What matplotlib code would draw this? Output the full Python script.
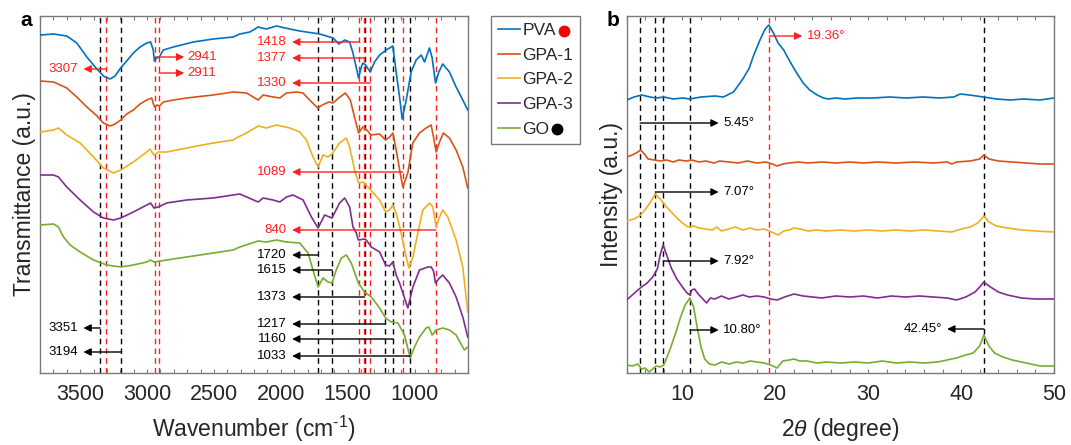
"""FTIR (a) et DRX (b) des films PVA / GPA / GO."""

import matplotlib

matplotlib.use("Agg")
import matplotlib.pyplot as plt
from matplotlib.lines import Line2D
from matplotlib.ticker import MultipleLocator

plt.rcParams["font.family"] = ["Liberation Sans", "DejaVu Sans"]
plt.rcParams["mathtext.fontset"] = "custom"
plt.rcParams["mathtext.rm"] = "Liberation Sans"
plt.rcParams["mathtext.it"] = "Liberation Sans:italic"

NAMES = ["PVA", "GPA-1", "GPA-2", "GPA-3", "GO"]
COLORS = ["#0072BD", "#D95319", "#EDB120", "#7E2F8E", "#77AC30"]
RED = "#ff1f1f"
FRAME = "#7a7a7a"
TXT = "#262626"

# ---- FTIR (transmittance décalée, u.a.) ----
pva_wn = [3798, 3699, 3600, 3525, 3450, 3381, 3326, 3276, 3239, 3197, 3152, 3102, 3052, 3002,
          2973, 2953, 2945, 2928, 2908, 2878, 2803, 2654, 2505, 2356, 2306, 2231, 2169, 2107,
          2032, 1933, 1858, 1709, 1634, 1609, 1565, 1522, 1485, 1460, 1418, 1398, 1386, 1366,
          1331, 1299, 1261, 1211, 1162, 1149, 1112, 1092, 1062, 1025, 988, 950, 925, 888, 868,
          843, 818, 789, 739, 689, 639, 602]
pva_t = [338, 339, 337, 330, 316, 305, 297, 294, 297, 305, 312, 320, 326, 330,
         331, 323, 312, 315, 316, 323, 326, 331, 334, 336, 339, 341, 346, 344,
         347, 344, 342, 339, 336, 335, 329, 333, 331, 320, 295, 306, 310, 308,
         301, 311, 318, 323, 327, 313, 276, 254, 273, 301, 313, 318, 311, 325, 315,
         290, 301, 309, 301, 286, 273, 263]

gpa1_wn = [3798, 3699, 3600, 3525, 3450, 3381, 3326, 3276, 3239, 3197, 3152, 3102, 3052, 3002,
           2965, 2945, 2925, 2908, 2878, 2803, 2704, 2505, 2356, 2256, 2169, 2132, 2057, 2007,
           1958, 1883, 1834, 1784, 1724, 1690, 1641, 1609, 1567, 1517, 1480, 1443, 1418, 1386,
           1356, 1326, 1261, 1216, 1186, 1162, 1137, 1107, 1087, 1050, 1013, 963, 913, 876,
           858, 838, 813, 784, 739, 689, 639, 602]
gpa1_t = [292, 291, 285, 276, 266, 258, 250, 247, 249, 253, 259, 263, 269, 273,
          275, 266, 268, 267, 271, 273, 275, 278, 281, 280, 273, 278, 276, 275,
          280, 281, 280, 273, 265, 268, 271, 270, 275, 280, 273, 253, 240, 246,
          243, 238, 239, 233, 236, 240, 223, 200, 186, 200, 230, 240, 245, 248,
          236, 221, 231, 240, 235, 223, 206, 185]

gpa2_wn = [3798, 3699, 3662, 3600, 3500, 3400, 3326, 3251, 3196, 3102, 3002, 2978, 2948, 2915,
           2853, 2704, 2505, 2356, 2318, 2256, 2169, 2107, 2032, 1933, 1858, 1808, 1759, 1721,
           1684, 1647, 1617, 1560, 1510, 1485, 1448, 1418, 1385, 1348, 1261, 1216, 1187, 1162,
           1137, 1100, 1062, 1042, 1012, 975, 938, 888, 863, 838, 813, 789, 751, 689, 639, 602]
gpa2_t = [241, 243, 245, 238, 230, 216, 205, 200, 203, 211, 221, 224, 218, 221,
          221, 225, 230, 233, 236, 240, 247, 245, 248, 245, 241, 233, 216, 206,
          218, 216, 219, 230, 235, 226, 203, 190, 191, 186, 173, 161, 163, 168,
          160, 140, 116, 105, 116, 140, 163, 170, 166, 146, 156, 163, 156, 133, 106, 61]

gpa3_wn = [3798, 3699, 3662, 3600, 3500, 3400, 3326, 3251, 3196, 3102, 3002, 2973, 2948, 2915,
           2853, 2704, 2505, 2356, 2306, 2169, 2132, 2057, 2007, 1958, 1908, 1833, 1771, 1721,
           1672, 1617, 1560, 1522, 1485, 1460, 1435, 1420, 1373, 1361, 1323, 1261, 1216, 1187,
           1162, 1137, 1112, 1050, 1012, 963, 900, 875, 858, 843, 813, 789, 739, 689, 639, 602]
gpa3_t = [198, 198, 196, 186, 173, 161, 155, 153, 155, 161, 168, 170, 165, 166,
          170, 173, 175, 178, 179, 171, 175, 173, 171, 176, 178, 173, 156, 145,
          158, 155, 170, 175, 166, 146, 140, 133, 134, 133, 126, 121, 108, 107,
          111, 98, 90, 65, 86, 103, 106, 106, 102, 90, 95, 98, 90, 76, 56, 36]

go_wn = [3798, 3699, 3662, 3624, 3575, 3500, 3400, 3301, 3196, 3102, 3002, 2973, 2948, 2853,
         2704, 2505, 2356, 2306, 2169, 2107, 2032, 1958, 1858, 1796, 1759, 1721, 1684, 1647,
         1617, 1585, 1547, 1510, 1473, 1420, 1373, 1323, 1261, 1216, 1174, 1124, 1075, 1032,
         1000, 963, 913, 893, 868, 838, 789, 739, 689, 627, 602]
go_t = [148, 149, 146, 136, 128, 121, 113, 108, 106, 108, 111, 113, 111, 113,
        116, 120, 123, 126, 132, 131, 133, 131, 130, 120, 103, 86, 95, 91,
        90, 103, 115, 118, 110, 90, 81, 76, 65, 55, 51, 50, 38, 15,
        26, 36, 45, 46, 38, 43, 45, 43, 38, 23, 26]

ftir_red_peaks = [3307, 2941, 2911, 1418, 1377, 1330, 1089, 840]
ftir_black_peaks = [3351, 3194, 1720, 1615, 1373, 1217, 1160, 1033]
# (pic, hauteur de la flèche, couleur)
ftir_left_labels = [(3307, 304, RED), (3351, 45, "k"), (3194, 21, "k")]
ftir_right_labels = [(2941, 316, RED), (2911, 300, RED)]
ftir_mid_labels = [(1418, 331, RED), (1377, 315, RED), (1330, 290, RED), (1089, 201, RED),
                   (840, 143, RED), (1720, 118, "k"), (1615, 103, "k"), (1373, 76, "k"),
                   (1217, 49, "k"), (1160, 34, "k"), (1033, 17, "k")]

# ---- DRX ----
pva_2t = [4.0, 4.8, 5.6, 6.5, 7.2, 8.0, 9.0, 10.0, 10.8, 12.0, 13.5, 14.4, 15.5, 16.5, 17.2,
          17.6, 18.3, 18.9, 19.3, 19.8, 20.3, 20.9, 21.6, 22.3, 23.0, 23.7, 24.5, 25.2, 25.7,
          26.5, 27.5, 28.8, 30.5, 32.3, 34.1, 35.9, 37.7, 39.2, 39.9, 40.9, 42.4, 43.8, 45.3,
          46.7, 48.5, 50.0]
pva_i = [273, 276, 278, 276, 275, 276, 274, 275, 274, 276, 277, 276, 281, 294, 305,
         316, 332, 344, 348, 340, 330, 323, 311, 300, 290, 283, 278, 275, 274,
         275, 274, 275, 275, 276, 275, 276, 275, 276, 279, 278, 276, 274, 273,
         274, 273, 275]

gpa1_2t = [4.0, 4.6, 5.2, 5.5, 5.9, 6.3, 7.0, 7.6, 8.3, 9.0, 9.6, 10.4, 11.0, 11.8, 12.5, 13.4,
           14.0, 15.0, 16.0, 17.0, 18.0, 19.0, 19.7, 20.2, 20.8, 21.5, 22.5, 23.5, 25.0, 26.5,
           28.0, 29.5, 31.0, 33.0, 35.0, 37.0, 38.5, 39.0, 39.5, 41.0, 42.0, 42.45, 43.0, 44.0,
           45.5, 47.0, 48.5, 50.0]
gpa1_i = [216, 218, 221, 223, 219, 214, 213, 212, 213, 211, 213, 212, 213, 211, 212, 210,
          212, 211, 210, 212, 210, 211, 209, 207, 209, 210, 211, 210, 211, 210,
          211, 210, 211, 210, 211, 210, 211, 209, 211, 212, 214, 218, 214, 212,
          211, 210, 209, 209]

gpa2_2t = [4.0, 4.8, 5.5, 6.2, 6.7, 7.07, 7.6, 8.2, 8.8, 9.4, 10.0, 10.6, 11.2, 11.8, 12.5,
           13.2, 13.7, 14.2, 15.0, 15.7, 16.5, 17.3, 18.0, 18.8, 19.6, 20.3, 20.9, 21.5, 22.0,
           22.7, 23.5, 24.5, 25.5, 27.0, 28.5, 30.0, 31.5, 33.0, 34.5, 36.0, 37.5, 39.0, 40.0,
           41.0, 41.8, 42.45, 43.0, 43.8, 45.0, 46.5, 48.0, 50.0]
gpa2_i = [152, 154, 158, 166, 173, 179, 174, 167, 161, 155, 150, 146, 147, 145, 144,
          143, 146, 142, 144, 146, 143, 145, 143, 144, 141, 138, 142, 143, 145,
          144, 142, 143, 142, 143, 142, 143, 142, 143, 142, 143, 142, 141, 144,
          146, 150, 157, 151, 147, 145, 143, 142, 141]

gpa3_2t = [4.0, 4.6, 5.2, 5.6, 6.2, 6.8, 7.3, 7.6, 7.92, 8.3, 8.8, 9.4, 10.0, 10.5, 10.8, 11.0,
           11.3, 11.7, 12.2, 12.6, 13.0, 13.5, 14.2, 15.0, 15.8, 16.5, 17.2, 18.0, 18.8, 19.5,
           20.2, 21.0, 22.0, 23.0, 24.0, 25.0, 26.5, 28.0, 29.5, 31.0, 32.5, 34.0, 35.5, 37.0,
           38.5, 39.5, 40.5, 41.5, 42.0, 42.45, 43.0, 44.0, 45.0, 46.5, 48.0, 50.0]
gpa3_i = [73, 78, 83, 86, 90, 96, 104, 118, 128, 118, 105, 94, 86, 80, 78, 83,
          84, 79, 74, 70, 75, 74, 77, 74, 76, 78, 76, 77, 76, 74,
          73, 76, 79, 77, 76, 75, 77, 76, 77, 75, 77, 76, 77, 76,
          75, 73, 76, 81, 86, 91, 87, 81, 78, 75, 74, 74]

go_2t = [4.0, 4.6, 5.2, 5.6, 6.0, 6.4, 6.8, 7.2, 7.6, 8.0, 8.6, 9.2, 9.8, 10.3, 10.8, 11.2,
         11.6, 12.0, 12.4, 12.9, 13.5, 14.2, 15.0, 15.8, 16.5, 17.3, 18.0, 18.8, 19.5, 20.2,
         20.8, 21.5, 22.0, 22.6, 23.4, 24.5, 25.5, 27.0, 28.5, 30.0, 31.5, 33.0, 34.5, 36.0,
         37.5, 38.5, 39.5, 40.5, 41.3, 42.0, 42.45, 43.0, 43.6, 44.5, 45.5, 46.5, 47.5, 48.5,
         50.0]
go_i = [8, 7, 9, 4, 5, 1, 4, 7, 6, 8, 22, 38, 56, 68, 75, 66,
        45, 26, 14, 9, 8, 11, 9, 11, 10, 12, 11, 10, 8, 5,
        12, 13, 14, 12, 12, 10, 11, 10, 11, 10, 12, 10, 11, 10,
        11, 13, 15, 18, 20, 27, 38, 27, 20, 16, 13, 11, 9, 7,
        7]

xrd_red_peaks = [19.36]
xrd_black_peaks = [5.45, 7.07, 7.92, 10.80, 42.45]
xrd_right_labels = [(19.36, 337, RED), (5.45, 250, "k"), (7.07, 181, "k"),
                    (7.92, 112, "k"), (10.80, 43, "k")]
xrd_left_labels = [(42.45, 44, "k")]

ftir = [(pva_wn, pva_t), (gpa1_wn, gpa1_t), (gpa2_wn, gpa2_t), (gpa3_wn, gpa3_t), (go_wn, go_t)]
xrd = [(pva_2t, pva_i), (gpa1_2t, gpa1_i), (gpa2_2t, gpa2_i), (gpa3_2t, gpa3_i), (go_2t, go_i)]


def arrow(ax, x_from, x_to, y, text, color, ha, text_x):
    ax.annotate("", xy=(x_to, y), xytext=(x_from, y),
                arrowprops=dict(arrowstyle="-|>", color=color, lw=1.0,
                                mutation_scale=11, shrinkA=0, shrinkB=0))
    ax.text(text_x, y, text, color=color, ha=ha, va="center", fontsize=9.5)


def style_axes(ax):
    for sp in ax.spines.values():
        sp.set_color(FRAME)
        sp.set_linewidth(1.0)
    ax.tick_params(axis="x", which="both", direction="in", top=True, length=3,
                   width=0.8, color=FRAME, labelsize=15.5, labelcolor=TXT, pad=8)
    ax.tick_params(axis="y", which="both", left=False, labelleft=False)
    ax.set_ylim(0, 357)


fig = plt.figure(figsize=(10.71, 4.45), dpi=100)
ax_a = fig.add_axes([0.03735, 0.16180, 0.39963, 0.80225])
ax_b = fig.add_axes([0.58515, 0.16180, 0.39897, 0.80225])

# ---- panel a ----
for x in ftir_black_peaks:
    ax_a.axvline(x, color="k", ls=(0, (4, 3)), lw=1.0, zorder=1)
for x in ftir_red_peaks:
    ax_a.axvline(x, color=RED, ls=(0, (4, 3)), lw=1.0, zorder=1)
lines = []
for (wn, t), name, c in zip(ftir, NAMES, COLORS):
    ln, = ax_a.plot(wn, t, color=c, lw=1.2, label=name, zorder=3)
    lines.append(ln)
for pk, y, c in ftir_left_labels:
    arrow(ax_a, pk, 3475, y, str(pk), c, "right", 3515)
for pk, y, c in ftir_right_labels:
    arrow(ax_a, pk, 2722, y, str(pk), c, "left", 2697)
for pk, y, c in ftir_mid_labels:
    arrow(ax_a, pk, 1915, y, str(pk), c, "right", 1958)

ax_a.set_xlim(3800, 600)
ax_a.xaxis.set_major_locator(MultipleLocator(500))
ax_a.xaxis.set_minor_locator(MultipleLocator(100))
style_axes(ax_a)
ax_a.set_xticks([3500, 3000, 2500, 2000, 1500, 1000])
ax_a.set_xlabel("Wavenumber (cm$^{\\mathregular{\u20101}}$)", fontsize=16.5, color=TXT, labelpad=6)
ax_a.set_ylabel("Transmittance (a.u.)", fontsize=16.5, color=TXT, labelpad=3)

# ---- panel b ----
for x in xrd_black_peaks:
    ax_b.axvline(x, color="k", ls=(0, (4, 3)), lw=1.0, zorder=1)
for x in xrd_red_peaks:
    ax_b.axvline(x, color=RED, ls=(0, (4, 3)), lw=1.0, zorder=1)
for (tt, inten), c in zip(xrd, COLORS):
    ax_b.plot(tt, inten, color=c, lw=1.2, zorder=3)
for pk, y, c in xrd_right_labels:
    tip = 22.9 if pk > 15 else 13.9
    arrow(ax_b, pk, tip, y, f"{pk:.2f}°", c, "left", tip + 0.5)
for pk, y, c in xrd_left_labels:
    arrow(ax_b, pk, 38.5, y, f"{pk:.2f}°", c, "right", 38.0)

ax_b.set_xlim(4, 50)
ax_b.xaxis.set_major_locator(MultipleLocator(10))
ax_b.xaxis.set_minor_locator(MultipleLocator(2))
style_axes(ax_b)
ax_b.set_xlabel("2$\\mathit{\\theta}$ (degree)", fontsize=16.5, color=TXT, labelpad=8)
ax_b.set_ylabel("Intensity (a.u.)", fontsize=16.5, color=TXT, labelpad=3)

fig.text(20 / 1071, 1 - 20 / 445, "a", fontsize=15, fontweight="bold", va="center", ha="left")
fig.text(607 / 1071, 1 - 20 / 445, "b", fontsize=15, fontweight="bold", va="center", ha="left")

# ---- légende entre les panneaux ----
leg = fig.legend(handles=lines, loc="upper left", bbox_to_anchor=(491 / 1071, 1 - 16 / 445),
                 bbox_transform=fig.transFigure, borderaxespad=0, fontsize=12.5,
                 frameon=True, fancybox=False, edgecolor=FRAME, framealpha=1,
                 handlelength=1.25, handletextpad=0.15, borderpad=0.4, labelspacing=0.55)
leg.get_frame().set_linewidth(1.0)
for t in leg.get_texts():
    t.set_color(TXT)

fig.canvas.draw()
W, H = fig.get_size_inches() * fig.dpi
for idx, dot_color in ((0, "#ff0000"), (4, "black")):
    bb = leg.get_texts()[idx].get_window_extent()
    xd = (bb.x1 + 8) / W
    yd = (bb.y0 + bb.y1) / 2 / H
    fig.add_artist(Line2D([xd], [yd], marker="o", ms=7.5, color=dot_color, ls="none",
                          transform=fig.transFigure, zorder=20))

fig.savefig("out.png", dpi=100)
